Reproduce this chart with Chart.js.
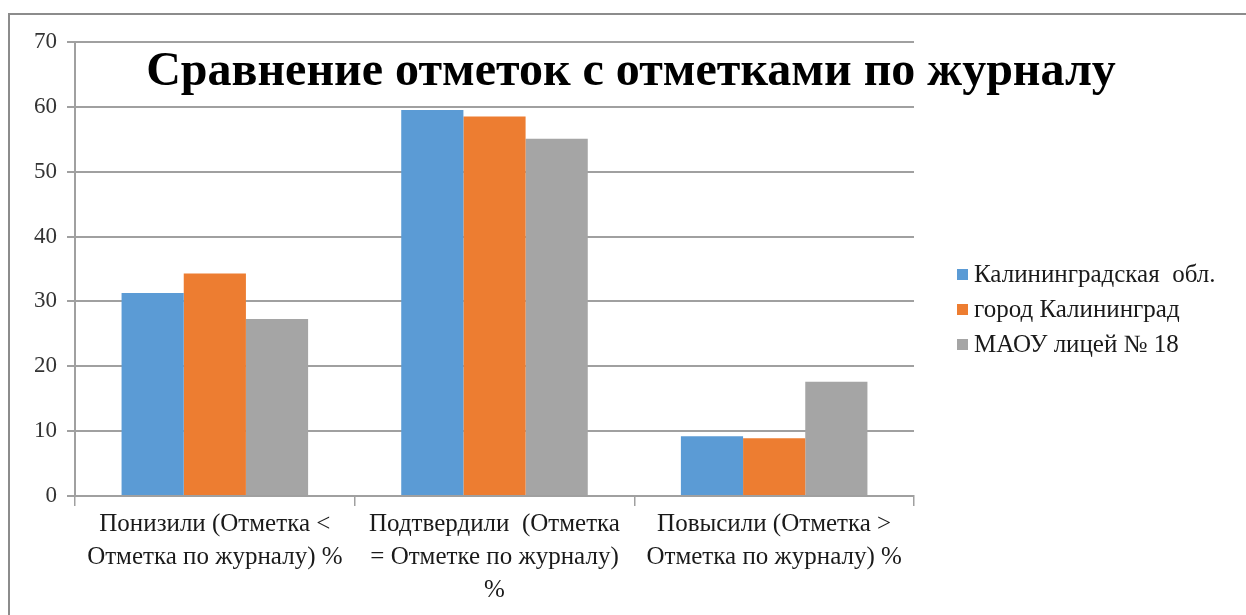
<!DOCTYPE html>
<html>
<head>
<meta charset="utf-8">
<script src="https://cdn.jsdelivr.net/npm/chart.js@4"></script>
<style>
html,body{margin:0;padding:0;background:#fff;}
#wrap{position:relative;width:1246px;height:615px;overflow:hidden;}
#frame{position:absolute;left:8px;top:13px;width:1300px;height:700px;border-left:2px solid #8c8c8c;border-top:2px solid #8c8c8c;}
canvas{position:absolute;left:0;top:0;}
</style>
</head>
<body>
<div id="wrap">
<div id="frame"></div>
<canvas id="c" width="1246" height="615"></canvas>
</div>
<script>
const chartTitle = "Сравнение отметок с отметками по журналу";
const categories = [
  ["Понизили (Отметка <", "Отметка по журналу) %"],
  ["Подтвердили  (Отметка", "= Отметке по журналу)", "%"],
  ["Повысили (Отметка >", "Отметка по журналу) %"]
];
const seriesNames = ["Калининградская  обл.", "город Калининград", "МАОУ лицей № 18"];
const regionValues = [31.3, 59.5, 9.2];
const cityValues = [34.3, 58.5, 8.9];
const schoolValues = [27.3, 55.1, 17.6];
const seriesColors = ["#5B9BD5", "#ED7D31", "#A5A5A5"];
const yTicks = [0, 10, 20, 30, 40, 50, 60, 70];

const serif = "'Liberation Serif', 'Times New Roman', serif";

const overlayPlugin = {
  id: 'overlay',
  afterDraw(chart) {
    const ctx = chart.ctx;
    ctx.save();
    // title
    ctx.font = "bold 48px " + serif;
    ctx.fillStyle = "#000";
    ctx.textAlign = "center";
    ctx.textBaseline = "alphabetic";
    ctx.fillText(chartTitle, 631, 85);
    // legend
    const area = chart.chartArea;
    const lx = area.right + 43;
    const rowH = 35;
    const cy = 310;
    ctx.font = "25px " + serif;
    ctx.textAlign = "left";
    ctx.textBaseline = "middle";
    chart.data.datasets.forEach((ds, i) => {
      const y = cy + (i - 1) * rowH;
      ctx.fillStyle = ds.backgroundColor;
      ctx.fillRect(lx, y - 6, 11, 11);
      ctx.fillStyle = "#1a1a1a";
      ctx.fillText(ds.label, lx + 17, y);
    });
    ctx.restore();
  }
};

new Chart(document.getElementById('c'), {
  type: 'bar',
  data: {
    labels: categories,
    datasets: [
      { label: seriesNames[0], data: regionValues, backgroundColor: seriesColors[0] },
      { label: seriesNames[1], data: cityValues, backgroundColor: seriesColors[1] },
      { label: seriesNames[2], data: schoolValues, backgroundColor: seriesColors[2] }
    ]
  },
  options: {
    responsive: false,
    animation: false,
    layout: { padding: { top: 42, right: 332, bottom: 0, left: 0 } },
    datasets: { bar: { categoryPercentage: 0.667, barPercentage: 1.0, borderWidth: 0 } },
    plugins: {
      legend: { display: false },
      title: { display: false },
      tooltip: { enabled: false }
    },
    scales: {
      x: {
        grid: { display: true, offset: true, drawOnChartArea: false, drawTicks: true, tickLength: 10, color: '#a0a0a0', lineWidth: 1.5 },
        border: { display: true, color: '#a0a0a0', width: 2 },
        ticks: { font: { family: serif, size: 25, lineHeight: 1.32 }, color: '#1a1a1a', maxRotation: 0, autoSkip: false, padding: 2 },
        afterFit(scale) { scale.height = 119; }
      },
      y: {
        min: 0, max: 70,
        afterBuildTicks(scale) { scale.ticks = yTicks.map(v => ({ value: v })); },
        grid: { color: '#a0a0a0', lineWidth: 2, tickLength: 8 },
        border: { display: true, color: '#a0a0a0', width: 2 },
        ticks: { font: { family: serif, size: 23 }, color: '#333', padding: 10 },
        afterFit(scale) { scale.width = 75; }
      }
    }
  },
  plugins: [overlayPlugin]
});
</script>
</body>
</html>
